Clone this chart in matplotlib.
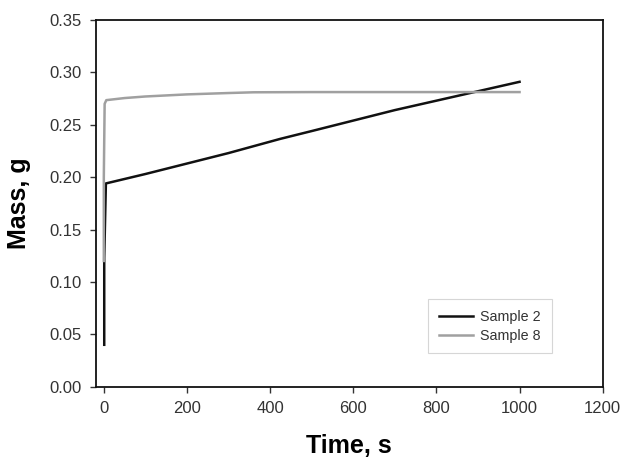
import matplotlib
matplotlib.use('Agg')
import matplotlib.pyplot as plt

plt.rcParams['font.family'] = ['Liberation Sans', 'DejaVu Sans']

# sample 2: fast jump, then slow linear-ish uptake
time_s2 = [1, 1, 5, 100, 200, 300, 424, 500, 600, 700, 800, 900, 1000]
mass_s2 = [0.040, 0.123, 0.194, 0.203, 0.213, 0.223, 0.2365, 0.244, 0.254, 0.264, 0.273, 0.282, 0.291]

# sample 8: near-instant jump, then plateau
time_s8 = [0, 0, 2, 6, 50, 100, 200, 300, 360, 500, 700, 1000]
mass_s8 = [0.120, 0.200, 0.270, 0.2735, 0.2755, 0.2770, 0.2790, 0.2803, 0.2810, 0.2812, 0.2812, 0.2812]

xticks = [0, 200, 400, 600, 800, 1000, 1200]
yticks = [0.00, 0.05, 0.10, 0.15, 0.20, 0.25, 0.30, 0.35]

W, H = 621, 458
fig = plt.figure(figsize=(W / 100, H / 100), dpi=100)
ax = fig.add_axes([95.5 / W, 1 - 386.7 / H, (602.7 - 95.5) / W, (386.7 - 20) / H])

ax.plot(time_s2, mass_s2, color='#111111', lw=1.8, label='Sample 2', solid_joinstyle='round')
ax.plot(time_s8, mass_s8, color='#a0a0a0', lw=1.8, label='Sample 8', solid_joinstyle='round')

ax.set(xlim=[-20, 1200], ylim=[0, 0.35])
ax.set_xticks(xticks)
ax.set_yticks(yticks)
ax.set_yticklabels(['{0:.2f}'.format(v) for v in yticks])
ax.tick_params(direction='out', length=4, width=1, color='#333333', labelsize=12, labelcolor='#333333', pad=6)
for sp in ax.spines.values():
    sp.set_linewidth(1.3)
    sp.set_color('#111111')

ax.set_xlabel('Time, s', fontsize=18, fontweight='bold', labelpad=13)
ax.set_ylabel('Mass, g', fontsize=18, fontweight='bold', labelpad=13)

leg = ax.legend(loc='lower right', bbox_to_anchor=(551.7 / W, 1 - 353.3 / H),
                bbox_transform=fig.transFigure, fontsize=10.3,
                frameon=True, fancybox=False, edgecolor='#cccccc', handlelength=2.4,
                borderpad=0.75, labelspacing=0.35, handletextpad=0.5, borderaxespad=0)
leg.get_frame().set_linewidth(0.8)
for t in leg.get_texts():
    t.set_color('#333333')

fig.savefig('out.png', dpi=100)
